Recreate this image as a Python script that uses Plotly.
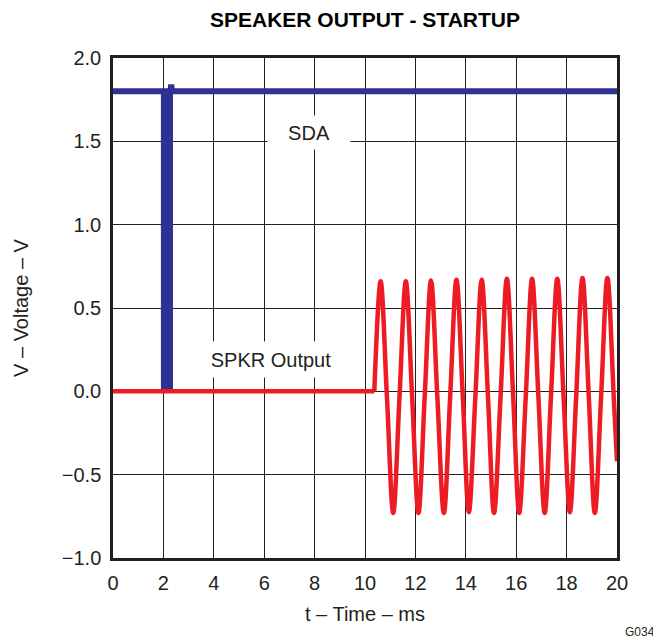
import plotly.graph_objects as go

# ---- data ----
sda_t = [0.0, 2.28, 2.31, 2.34, 20.0]
sda_v = [1.80, 1.80, 1.84, 1.80, 1.80]

# SDA burst (rapid toggling between 0 and 1.8 V) seen as a solid band
burst_t = [1.92, 2.36, 2.36, 1.92, 1.92]
burst_v = [1.80, 1.80, 0.0, 0.0, 1.80]

spkr_flat_t = [0.0, 10.37]
spkr_flat_v = [0.0, 0.0]

wave_t = [10.37, 10.62, 10.87, 11.12, 11.37, 11.62, 11.87, 12.12, 12.37, 12.62,
          12.87, 13.13, 13.38, 13.63, 13.88, 14.12, 14.38, 14.63, 14.88, 15.12,
          15.38, 15.63, 15.88, 16.12, 16.38, 16.63, 16.88, 17.13, 17.38, 17.63,
          17.88, 18.13, 18.38, 18.63, 18.88, 19.12, 19.37, 19.62, 19.87, 20.0]
wave_v = [0.0, 0.66, -0.03, -0.73, -0.03, 0.66, -0.03, -0.73, -0.03, 0.665,
          -0.03, -0.73, -0.03, 0.67, -0.03, -0.725, -0.03, 0.67, -0.03, -0.73,
          -0.03, 0.675, -0.03, -0.73, -0.03, 0.675, -0.03, -0.73, -0.03, 0.675,
          -0.03, -0.725, -0.03, 0.68, -0.03, -0.73, -0.03, 0.68, -0.03, -0.42]

x_ticks = [0, 2, 4, 6, 8, 10, 12, 14, 16, 18, 20]
y_ticks = [-1.0, -0.5, 0.0, 0.5, 1.0, 1.5, 2.0]
y_tick_text = ["\u22121.0", "\u22120.5", "0.0", "0.5", "1.0", "1.5", "2.0"]

NAVY = "#2E3192"
RED = "#ED1C24"
INK = "#231F20"
FONT = "Liberation Sans, Arial, sans-serif"

# page body has an 8 px default margin, so the figure is 8 px smaller
W, H = 653, 634
ML, MR, MT, MB = 105, 44, 50, 84
PW, PH = W - ML - MR, H - MT - MB

fig = go.Figure()
fig.add_trace(go.Scatter(x=sda_t, y=sda_v, mode="lines",
                         line=dict(color=NAVY, width=6), showlegend=False))
fig.add_trace(go.Scatter(x=burst_t, y=burst_v, mode="lines", fill="toself",
                         fillcolor=NAVY, line=dict(color=NAVY, width=1),
                         showlegend=False))
fig.add_trace(go.Scatter(x=spkr_flat_t, y=spkr_flat_v, mode="lines",
                         line=dict(color=RED, width=4.5), showlegend=False))
fig.add_trace(go.Scatter(x=wave_t, y=wave_v, mode="lines",
                         line=dict(color=RED, width=4.5, shape="spline", smoothing=1.0),
                         showlegend=False))

fig.add_annotation(x=7.78, y=1.553, xref="x", yref="y", text="SDA",
                   showarrow=False, bgcolor="white", width=80, height=31,
                   borderpad=1, font=dict(size=20, color=INK, family=FONT))
fig.add_annotation(x=6.25, y=0.19, xref="x", yref="y", text="SPKR Output",
                   showarrow=False, bgcolor="white", width=150, height=33,
                   borderpad=1, font=dict(size=20, color=INK, family=FONT))
# "G034" figure id at bottom right (page px ~657, 632)
fig.add_annotation(x=(657 - 8 - ML) / PW, y=-(632 - 8 - (MT + PH)) / PH,
                   xref="paper", yref="paper", text="G034",
                   showarrow=False, xanchor="right", yanchor="middle",
                   font=dict(size=12, color=INK, family=FONT))

fig.update_layout(
    width=W, height=H,
    margin=dict(l=ML, r=MR, t=MT, b=MB),
    paper_bgcolor="white", plot_bgcolor="white",
    font=dict(family=FONT, size=20, color=INK),
    title=dict(text="<b>SPEAKER OUTPUT - STARTUP</b>", x=0.5, xref="paper",
               xanchor="center", y=1 - 12 / H, yanchor="middle",
               font=dict(size=21, color="black", family=FONT)),
)
fig.update_xaxes(range=[0, 20], tickvals=x_ticks, ticks="", showgrid=True,
                 gridcolor=INK, gridwidth=1, showline=True, linecolor=INK,
                 linewidth=2.5, mirror=True, zeroline=False,
                 ticklabelstandoff=5,
                 title=dict(text="t \u2013 Time \u2013 ms", standoff=15,
                            font=dict(size=20)))
fig.update_yaxes(range=[-1.0, 2.0], tickvals=y_ticks, ticktext=y_tick_text,
                 ticks="", showgrid=True, gridcolor=INK, gridwidth=1,
                 showline=True, linecolor=INK, linewidth=2.5, mirror=True,
                 zeroline=False, ticklabelstandoff=5,
                 title=dict(text="V \u2013 Voltage \u2013 V", standoff=28,
                            font=dict(size=20)))

fig.write_html("out.html")
